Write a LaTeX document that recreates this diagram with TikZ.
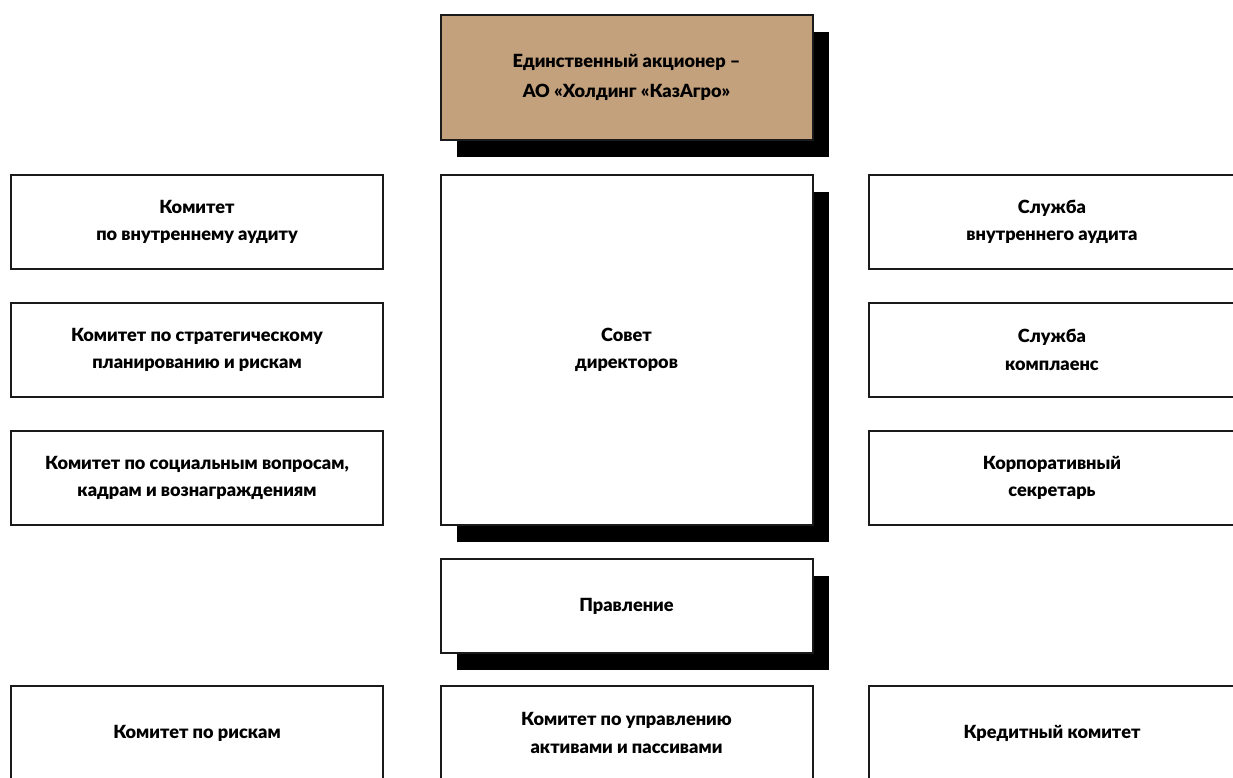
\documentclass[tikz,border=0pt]{standalone}
\usepackage{fontspec}
\setmainfont{Lato}[BoldFont={Lato Black}]
\usetikzlibrary{shadows}
\definecolor{beige}{HTML}{C3A17D}
\definecolor{edge}{HTML}{1A1A1A}
\begin{document}
\begin{tikzpicture}[x=0.75pt,y=-0.75pt,
  box/.style={draw=edge,line width=1.5pt,fill=white,align=center,
    font=\fontsize{13.6}{20.5}\selectfont\bfseries,inner sep=0pt},
  shad/.style={general shadow={fill=black,shadow xshift=12pt,shadow yshift=-12.75pt}},
  wide/.style={minimum width=279pt},
  ht/.style={minimum height=70.5pt}]
\useasboundingbox (0,0) rectangle (1233,778);
\clip (0,0) rectangle (1233,778);
\node[box,shad,wide,minimum height=93.75pt,fill=beige,font=\fontsize{13.6}{23}\selectfont\bfseries] (sh) at (626.5,77.5) {Единственный акционер –\\АО «Холдинг «КазАгро»};
\node[box,shad,wide,minimum height=262.5pt] (sd) at (626.5,350) {Совет\\директоров};
\node[box,shad,wide,ht] (pr) at (626.5,606) {Правление};
\node[box,wide,ht] (k1) at (197,222) {Комитет\\по внутреннему аудиту};
\node[box,wide,ht] (k2) at (197,350) {Комитет по стратегическому\\планированию и рискам};
\node[box,wide,ht] (k3) at (197,478) {Комитет по социальным вопросам,\\кадрам и вознаграждениям};
\node[box,minimum width=274.5pt,ht] (s1) at (1052,222) {Служба\\внутреннего аудита};
\node[box,minimum width=274.5pt,ht] (s2) at (1052,350) {Служба\\комплаенс};
\node[box,minimum width=274.5pt,ht] (s3) at (1052,478) {Корпоративный\\секретарь};
\node[box,wide,ht] (b1) at (197,733) {Комитет по рискам};
\node[box,wide,ht] (b2) at (626.5,733) {Комитет по управлению\\активами и пассивами};
\node[box,minimum width=274.5pt,ht] (b3) at (1052,733) {Кредитный комитет};
\end{tikzpicture}
\end{document}
